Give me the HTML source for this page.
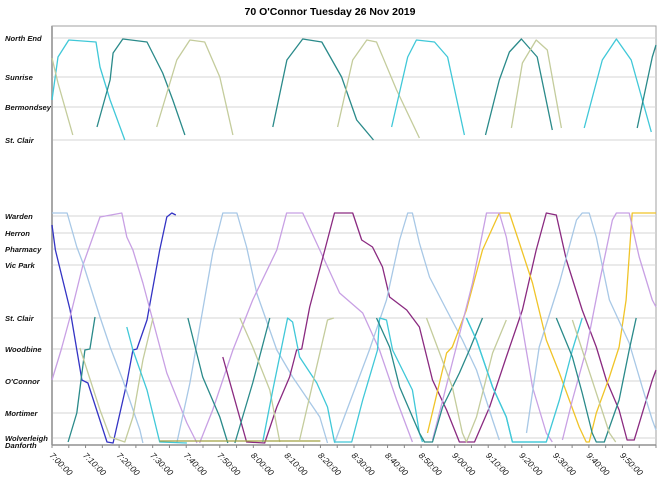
<!DOCTYPE html>
<html><head><meta charset="utf-8"><style>
body{margin:0;background:#fff;width:660px;height:486px;overflow:hidden}
svg{font-family:"Liberation Sans",Arial,sans-serif}
</style></head><body>
<svg id="chart" width="660" height="486" viewBox="0 0 660 486">
<text x="330" y="15" text-anchor="middle" font-size="10.5" font-weight="bold">70 O'Connor Tuesday 26 Nov 2019</text>
<g id="grid"></g><g id="ylabels"></g><g id="xaxis"></g><g id="series"></g>
</svg>
<script>
const stationNames = ["North End","Sunrise","Bermondsey","St. Clair","Warden","Herron","Pharmacy","Vic Park","St. Clair","Woodbine","O'Connor","Mortimer","Wolverleigh","Danforth"];
const stationDist = [40.7,36.8,33.8,30.5,22.9,21.2,19.6,18.0,12.7,9.6,6.4,3.2,0.7,0.0];
const xTickLabels = ["7:00:00","7:10:00","7:20:00","7:30:00","7:40:00","7:50:00","8:00:00","8:10:00","8:20:00","8:30:00","8:40:00","8:50:00","9:00:00","9:10:00","9:20:00","9:30:00","9:40:00","9:50:00"];
const tripColors = ["#40c8d8","#c4cc9c","#2a8a8a","#c4cc9c","#2a8a8a","#c4cc9c","#40c8d8","#2a8a8a","#c4cc9c","#40c8d8","#2a8a8a",
"#3434c4","#c8a0e4","#a8c8e6","#a8c8e6","#c8a0e4","#8a2a80","#a8c8e6","#f0c428","#c8a0e4","#a8c8e6","#c8a0e4",
"#2a8a8a","#c4cc9c","#40c8d8","#2a8a8a","#2a8a8a","#c4cc9c","#40c8d8","#40c8d8","#c4cc9c","#2a8a8a","#c4cc9c","#40c8d8","#2a8a8a","#c4cc9c","#a0a040"];
const tripTimes = [
[0,1.8,5,13.1,14.3,17.3,21.7],
[0,1.8,6.2],
[13.4,17.3,18.2,21.1,28.3,33,36,39.6],
[31.2,37.2,41.1,45.5,50,53.9],
[65.8,70,74.7,80.4,86.3,90.8,95.8],
[85.1,89.6,93.8,96.7,102.7,109.5],
[101.2,106,108.6,114,117.9,122.9],
[129.2,133.3,136.3,139.9,144.6,149.1],
[136.9,140.2,144.3,147.6,151.8],
[158.6,164,168.2,172.6,178.6],
[174.4,178.9,180],
[0,1,5.4,8.9,10.7,16.4,18.2,22.3,24.1,25.3,28.3,32.1,34.2,35.7,36.9],
[0,2.7,5.4,9.2,14.3,20.8,22.3,24.1,27.1,34.2,40.2,43.2],
[0,4.5,7.4,9.2,14.3,17.3,21.1,26.2,27.1],
[37.2,41.1,47.9,50.9,55.1,58,61,67,71.7,79.8,82.1],
[44,47.9,53.9,59.8,67,69.9,74.7,79.8,85.7,92.6,97.6,102.7,107.4],
[50.9,58,63.4,67,70.8,72.9,74.4,76.8,81.3,84.2,89.6,92.3,95.5,98.5,100.6,105.7,109.5,113.4,117.6,121.4,125.9,130.4,135.4,140.2,144.3,147.3,150.3,153.3,158,162.2,165.2,169,171.4,173.5,178.9,180],
[84.2,94.6,99.7,103.6,106,107.4,109.5,112.5,117.6,122.3,126.5,131.3,133.3],
[111.9,117.6,119.3,123.5,128.3,133.3,136.3,139.3,143.2,147.3,151.2,157.1,159.2,160.1,162.2,166.1,169,171.1,172.9,180],
[113.4,120.5,125.3,129.5,133.3,135.4,139.3,143.2,147.3,149.1],
[141.4,145.2,151.2,156.3,158,160.1,162.2,166.1,172,175.9,178.9,180],
[152.1,155.1,159.2,163.1,167,168.2,172,175,178.9,180],
[4.8,7.4,9.8,11.3,12.8],
[8.3,14.3,17.3,21.7,24.1,27.1,30.1],
[22.3,24.1,28.3,32.1,40.2],
[40.5,44.9,50,52.4],
[54.5,59.8,64.9],
[56,59.8,64.9,67.9],
[62.8,65.8,70.2,71.7,73.8,78.9,82.1,84.2,89.3,92.6,97,97.6,99.7,101.5,107.4,109.5,110.4],
[123.5,126.5,131.3,135.4,137.2,147.3,151.2,155.1,158],
[73.8,82.1,84],
[96.7,100.6,103.6,109.5,111,113.4,116.4,121.4,124.4,128.3],
[111.6,119.3,122.3,123.5,126.5,131.3,135.4],
[123.5,126.5,131.3,135.4,137.2,147.3],
[150.3,155.1,158,161,162.2,164.6,169,172,174.1],
[155.1,166.1,168],
[32,80]
];
const tripDists = [
[34.5,38.8,40.5,40.3,37.8,34.5,30.5],
[38.7,36.2,31],
[31.8,36.5,39.2,40.6,40.3,37.2,34.5,31],
[31.8,38.5,40.5,40.3,36.8,31],
[31.8,38.5,40.6,40.3,36.8,32.5,30.5],
[31.8,38.5,40.5,40.3,35.5,30.7],
[31.8,38.8,40.5,40.3,38.8,31],
[31,36.5,39.3,40.6,38.8,31.5],
[31.7,38.2,40.5,39.5,31.7],
[31.7,38.5,40.6,38.5,31.3],
[31.7,38.8,40],
[22,19.5,13.5,6.5,6.2,0.3,0.2,6.2,9.5,9.6,12.5,19.5,22.8,23.2,23],
[6.5,9.5,12.8,18,22.8,23.2,20.8,19.5,16.2,7.2,2.2,0.2],
[23.2,23.2,19.8,18.2,12.8,9.8,6.5,1.5,0.2],
[0.2,6.2,19.2,23.2,23.2,19.8,15.2,9.5,6.8,2.8,0.2],
[0.2,3.5,9.5,14.5,19.5,23.2,23.2,19.5,15.2,13.2,9.5,4.5,0.3],
[8.8,0.3,0.2,3.8,6.8,9.5,9.6,13.8,19.5,23.2,23.2,20.5,19.8,17.8,14.8,13.5,11.8,6.5,3.5,0.3,0.3,3.8,8.8,13.5,19.5,23.2,23,18.5,13.5,9.8,6.5,3.5,0.5,0.5,6.5,7.5],
[0.2,9.5,14.5,20.5,23.2,23.2,20.2,16.8,13.5,10.5,7.5,2.5,0.5],
[1.2,9.2,9.8,13.5,19.5,23.2,23.2,20.2,16.2,10.5,7.2,1.8,0.3,0.3,3.2,6.8,9.8,14.5,23.2,23.2],
[0.5,9.8,16.2,23.2,23.2,20.8,13.5,5.8,1.2,0.3],
[1.2,9.8,16.2,22.5,23.2,23.2,20.8,14.5,10.2,5.8,2.5,1.5],
[0.5,4.5,9.5,16.2,22.5,23.2,23.2,18.8,14.5,13.8],
[0.3,3.2,9.5,9.6,12.8],
[9.7,3.5,0.8,0.3,2.8,8.5,12.7],
[11.8,9.5,5.5,0.3,0.2],
[12.7,6.8,2.8,0.2],
[0.2,6.2,12.7],
[12.7,9.8,5.5,0.3],
[0.3,5.5,12.7,12.3,8.8,6.2,3.8,0.3,0.3,4.5,9.5,12.7,12.5,9.5,5.5,1.2,0.3],
[12.7,10.5,5.8,2.8,0.3,0.3,4.5,9.5,12.7],
[0.5,12.5,12.7],
[12.7,9.8,5.8,1.2,0.3,0.3,3.8,7.2,9.5,12.7],
[12.7,5.8,1.2,0.3,2.8,9.2,12.5],
[12.7,10.5,5.8,2.8,0.3,0.3],
[12.7,8.8,5.2,1.2,0.3,0.3,4.5,9.5,12.7],
[12.5,1.2,0.3],
[0.4,0.4]
];
const NS="http://www.w3.org/2000/svg";
const L=52,R=656,T=26,B=445;
const xScale=t=>L+t*(R-L)/180;
const yScale=d=>B-d*10;
function mk(tag,attrs,parent){const e=document.createElementNS(NS,tag);for(const k in attrs)e.setAttribute(k,attrs[k]);parent.appendChild(e);return e;}
const grid=document.getElementById('grid'),yl=document.getElementById('ylabels'),xa=document.getElementById('xaxis'),ser=document.getElementById('series');
mk('rect',{x:L,y:T,width:R-L,height:B-T,fill:'none',stroke:'#a0a0a0','stroke-width':1},grid);
stationNames.forEach((n,i)=>{
  const y=yScale(stationDist[i]);
  const g=mk('line',{x1:L,x2:R,y1:y,y2:y,stroke:'#d4d4d4','stroke-width':1},grid);
  
  
  const t=mk('text',{x:5,y:y+3,'font-size':7.6,'font-weight':'bold','font-style':'italic',fill:'#111'},yl);
  t.textContent=n;
  
  
});
mk('line',{x1:L,x2:L,y1:T,y2:B,stroke:'#a8a8a8','stroke-width':2},xa);
mk('line',{x1:L,x2:R,y1:B,y2:B,stroke:'#909090','stroke-width':1.5},xa);
for(let m=0;m<=180;m+=5){mk('line',{x1:xScale(m),x2:xScale(m),y1:B,y2:B+3,stroke:'#888'},xa);}
xTickLabels.forEach((s,i)=>{
  const x=xScale(i*10);
  const t=mk('text',{x:0,y:0,'font-size':8.5,'font-style':'italic',fill:'#111',transform:`translate(${x-3},${B+11}) rotate(45)`},xa);
  t.textContent=s;
  
  
});
tripTimes.forEach((ts,i)=>{
  const pts=ts.map((t,j)=>xScale(Math.min(t,180)).toFixed(1)+','+yScale(tripDists[i][j]).toFixed(1)).join(' ');
  const p=mk('polyline',{points:pts,fill:'none',stroke:tripColors[i],'stroke-width':1.3,'stroke-linejoin':'round'},ser);
  
  
});
</script>
</body></html>
